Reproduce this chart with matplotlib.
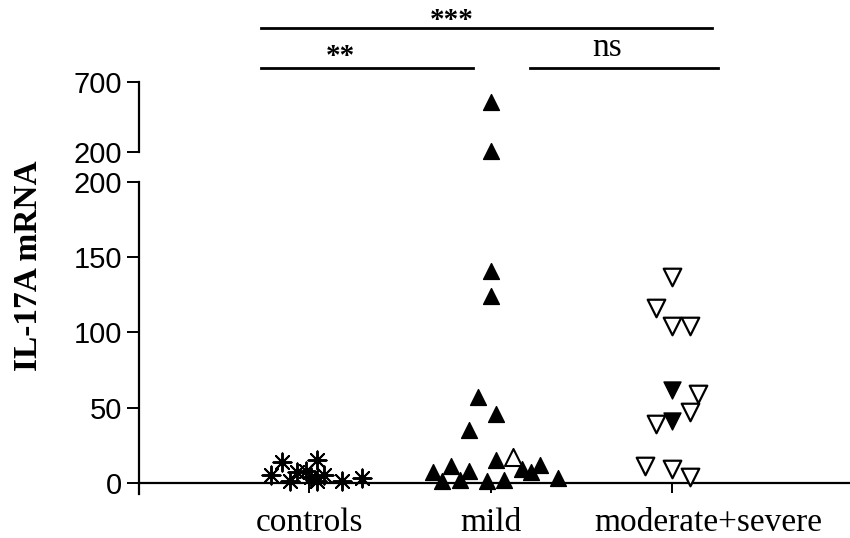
import numpy as np
import matplotlib.pyplot as plt
import matplotlib.transforms as mtransforms

plt.rcParams['font.family'] = ['Liberation Sans', 'DejaVu Sans']

# categories
groups = ["controls", "mild", "moderate+severe"]

# controls (asterisks)
ctrl_y = [14, 15, 5, 7, 8, 5, 1, 1, 1, 3, 4]
ctrl_dx = [-0.15, 0.04, -0.21, -0.07, -0.02, 0.08, -0.11, 0.04, 0.18, 0.29, 0.01]

# mild, filled up triangles
mild_y = [560, 205, 141, 124, 57, 46, 35, 15, 12, 11, 7, 8, 9, 7, 1, 2, 1, 2, 3]
mild_dx = [0, 0, 0, 0, -0.07, 0.03, -0.12, 0.03, 0.27, -0.22, -0.32, -0.12,
           0.17, 0.22, -0.27, -0.17, -0.02, 0.07, 0.37]
# mild, open up triangle
mild_open_y = [17]
mild_open_dx = [0.12]

# moderate+severe, open down triangles
sev_y = [137, 116, 104, 104, 59, 47, 39, 11, 9, 4]
sev_dx = [0, -0.09, 0, 0.1, 0.14, 0.1, -0.09, -0.15, 0, 0.1]
# moderate+severe, filled down triangles
sev_fill_y = [62, 41]
sev_fill_dx = [0, 0]

fig = plt.figure(figsize=(8.5, 5.38), dpi=100)
ax_lo = fig.add_axes([0.1635, 0.0827, 0.8365, 0.579])
ax_hi = fig.add_axes([0.1635, 0.7175, 0.8365, 0.1301])


def pick(xc, dx, y, lo, hi):
    x = xc + np.array(dx, dtype=float)
    y = np.array(y, dtype=float)
    m = (y > lo) & (y <= hi)
    return x[m], y[m]


def draw(ax, lo, hi):
    x, y = pick(1, ctrl_dx, ctrl_y, lo, hi)
    ax.scatter(x, y, marker=(8, 2, 0), s=170, color="black",
               linewidths=1.4, clip_on=False, zorder=5)
    x, y = pick(2, mild_dx, mild_y, lo, hi)
    ax.scatter(x, y, marker="^", s=130, color="black", clip_on=False, zorder=5)
    x, y = pick(2, mild_open_dx, mild_open_y, lo, hi)
    ax.scatter(x, y, marker="^", s=150, facecolor="white", edgecolor="black",
               linewidths=1.5, clip_on=False, zorder=5)
    x, y = pick(3, sev_dx, sev_y, lo, hi)
    ax.scatter(x, y, marker="v", s=160, facecolor="white", edgecolor="black",
               linewidths=1.6, clip_on=False, zorder=5)
    x, y = pick(3, sev_fill_dx, sev_fill_y, lo, hi)
    ax.scatter(x, y, marker="v", s=150, color="black", clip_on=False, zorder=6)
    ax.set_xlim(0.06, 3.98)


# lower part (0-200)
draw(ax_lo, -1, 200)
ax_lo.set_ylim(-7, 200)
ax_lo.set_yticks([0, 50, 100, 150, 200])
ax_lo.spines['top'].set_visible(False)
ax_lo.spines['right'].set_visible(False)
ax_lo.spines['bottom'].set_position(('data', 0))
ax_lo.spines['left'].set_linewidth(1.6)
ax_lo.spines['bottom'].set_linewidth(1.6)
ax_lo.set_xticks([1, 2, 3])
ax_lo.set_xticklabels(groups, family=['Liberation Serif'], fontsize=24)
ax_lo.tick_params(axis='y', length=9, width=1.4, labelsize=21, pad=3)
ax_lo.tick_params(axis='x', length=7, width=1.4, pad=11)
# the long label sits a bit to the right
lab = ax_lo.get_xticklabels()[2]
lab.set_transform(lab.get_transform() +
                  mtransforms.ScaledTranslation(0.36, 0, fig.dpi_scale_trans))

# upper part (200-700)
draw(ax_hi, 200, 800)
ax_hi.set_ylim(200, 700)
ax_hi.set_yticks([200, 700])
for s in ['top', 'right', 'bottom']:
    ax_hi.spines[s].set_visible(False)
ax_hi.spines['left'].set_linewidth(1.6)
ax_hi.set_xticks([])
ax_hi.tick_params(axis='y', length=9, width=1.4, labelsize=21, pad=3)

# y label
fig.text(29 / 850, 1 - 266 / 538, "IL-17A mRNA", rotation=90, ha="center",
         va="center", fontsize=24, fontweight="bold", family="Liberation Serif")

# significance bars
tr = mtransforms.blended_transform_factory(ax_lo.transData, fig.transFigure)
bars = [(0.735, 3.22, 1 - 28 / 538, "***", 1.785, 1 - 20 / 538),
        (0.735, 1.90, 1 - 68 / 538, "**", 1.17, 1 - 56 / 538),
        (2.215, 3.25, 1 - 68 / 538, "ns", 2.64, 1 - 48 / 538)]
for x0, x1, yb, txt, xt, yt in bars:
    fig.add_artist(plt.Line2D([x0, x1], [yb, yb], transform=tr,
                              color="black", lw=2))
    fig.text(xt, yt, txt, transform=tr, ha="center", va="center",
             fontsize=24 if txt == "ns" else 21, family="Liberation Serif",
             fontweight="normal" if txt == "ns" else "bold")

fig.savefig("out.png", dpi=100)
